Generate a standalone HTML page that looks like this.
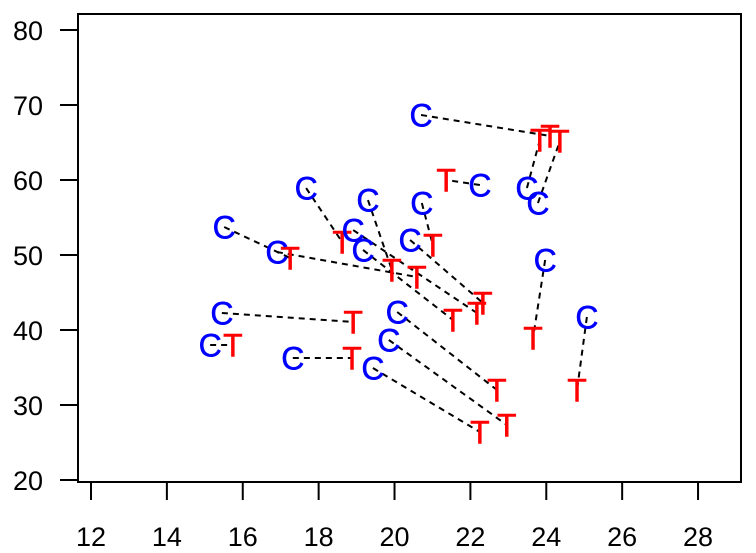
<!DOCTYPE html>
<html><head><meta charset="utf-8"><style>
html,body{margin:0;padding:0;background:#fff;}
svg{display:block;font-family:"Liberation Sans",sans-serif;}
</style></head><body>
<svg id="chart" width="756" height="553" viewBox="0 0 756 553" xmlns="http://www.w3.org/2000/svg">
<rect x="78" y="14" width="663" height="468" fill="none" stroke="#000" stroke-width="2"/>
<g id="axes"></g>
<g id="lines"></g>
<g id="marks"></g>
</svg>
<script>
const xTicks=[12,14,16,18,20,22,24,26,28];
const yTicks=[20,30,40,50,60,70,80];
const cX=[20.70,23.49,23.78,22.25,17.67,19.30,20.72,15.51,16.90,18.91,19.17,20.41,23.97,25.07,15.45,15.14,17.32,20.07,19.85,19.43];
const cY=[68.67,58.93,56.93,59.33,58.93,57.33,56.93,53.73,50.40,53.33,50.67,52.0,49.33,41.73,42.27,38.0,36.27,42.4,38.67,34.93];
const tX=[24.10,23.83,24.36,21.36,18.62,19.93,21.01,17.25,20.59,22.17,21.54,22.33,23.65,24.81,18.91,15.74,18.88,22.70,22.96,22.25];
const tY=[65.87,65.33,65.2,60.0,51.73,48.0,51.33,49.6,47.07,42.27,41.33,43.6,38.93,32.0,41.07,38.0,36.27,32.0,27.33,26.4];
const NS="http://www.w3.org/2000/svg";
function sx(v){return 91+(v-12)*37.94;}
function sy(v){return 480-(v-20)*7.5;}
function mk(tag,attrs,parent){const e=document.createElementNS(NS,tag);for(const k in attrs)e.setAttribute(k,attrs[k]);document.getElementById(parent).appendChild(e);return e;}
xTicks.forEach(v=>{
  const l=mk('line',{x1:sx(v),x2:sx(v),y1:482,y2:500,stroke:'#000','stroke-width':2},'axes');
  
  
  const t=mk('text',{x:sx(v),y:546,'text-anchor':'middle','font-size':27},'axes');
  t.textContent=v;
  
  
});
yTicks.forEach(v=>{
  const l=mk('line',{x1:60,x2:78,y1:sy(v),y2:sy(v),stroke:'#000','stroke-width':2},'axes');
  
  
  const t=mk('text',{x:43,y:sy(v)+10,'text-anchor':'end','font-size':27},'axes');
  t.textContent=v;
  
  
});
cX.forEach((v,i)=>{
  const l=mk('line',{x1:sx(v),y1:sy(cY[i]),x2:sx(tX[i]),y2:sy(tY[i]),stroke:'#000','stroke-width':2,'stroke-dasharray':'6,5'},'lines');
  
  
});
cX.forEach((v,i)=>{
  const c=mk('text',{x:sx(v),y:sy(cY[i])+11.5,'text-anchor':'middle','font-size':32,fill:'#0000ff',stroke:'#0000ff','stroke-width':0.5},'marks');
  c.textContent='C';
  
  
  const t=mk('text',{x:sx(tX[i]),y:sy(tY[i])+11.5,'text-anchor':'middle','font-size':32,fill:'#ff0000',stroke:'#ff0000','stroke-width':0.5},'marks');
  t.textContent='T';
  
  
});
</script>
</body></html>
